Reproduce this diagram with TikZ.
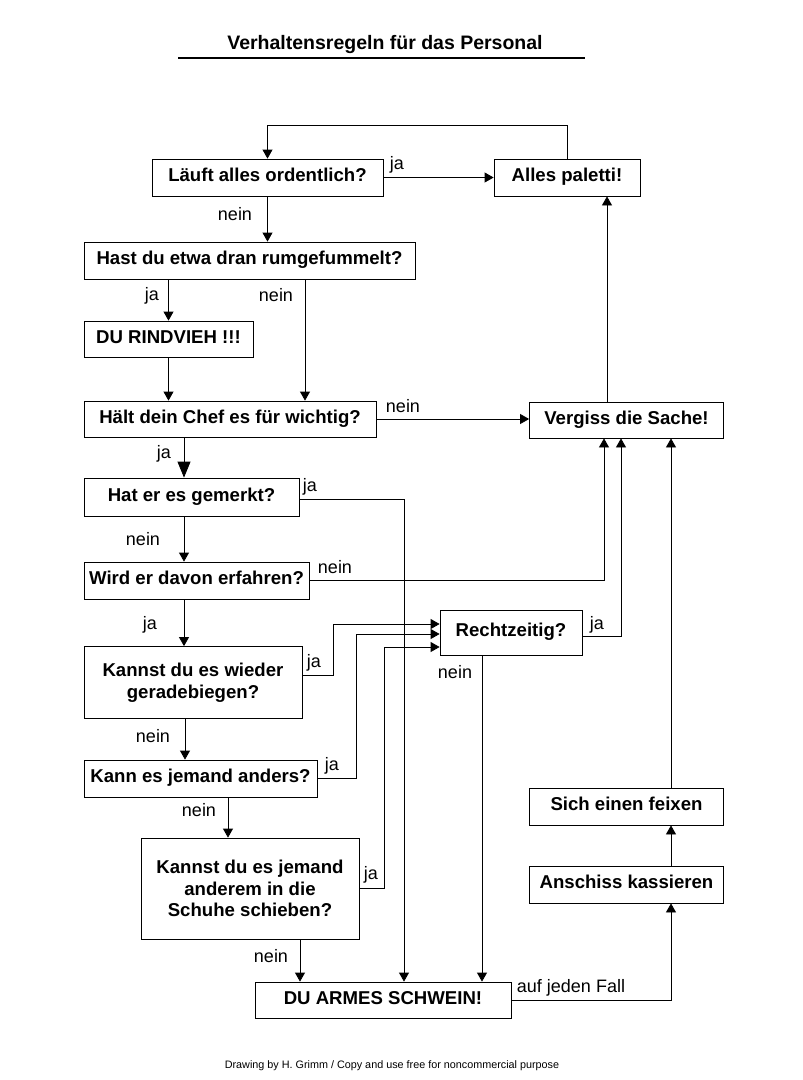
\documentclass[tikz,border=0pt]{standalone}
\usepackage{fontspec}
\setmainfont{Liberation Sans}
\usetikzlibrary{arrows.meta,calc,positioning}

\begin{document}
\begin{tikzpicture}[x=1pt,y=-1pt,
	box/.style={draw, line width=0.8pt, inner sep=0pt, minimum height=37pt, align=center, font=\fontsize{18.6}{21.5}\selectfont\bfseries},
	sbox/.style={box, text height=13.5pt, text depth=5pt},
	lbl/.style={inner sep=0pt, font=\fontsize{18}{20}\selectfont},
	arr/.style={line width=0.8pt, -{Triangle[length=9pt,width=10pt]}},
	bigarr/.style={line width=0.8pt, -{Triangle[length=16pt,width=13pt]}}]
	\useasboundingbox (0,0) rectangle (803,1080);
	\node [font=\fontsize{19.5}{22}\selectfont\bfseries, inner sep=0pt] (title) at (385,44) {Verhaltensregeln für das Personal};
	\draw [line width=1.6pt] (178,58) -- (585,58);
	\node [sbox, minimum width=231pt] (lauft) at (267.5,177.5) {Läuft alles ordentlich?};
	\node [sbox, minimum width=146pt] (alles) at (567,177.5) {Alles paletti!};
	\node [sbox, minimum width=331pt] (hast) at (249.5,260.5) {Hast du etwa dran rumgefummelt?};
	\node [sbox, minimum width=169pt, minimum height=36pt] (rind) at (168.5,339) {DU RINDVIEH !!!};
	\node [sbox, minimum width=292pt, minimum height=36pt] (haelt) at (230,419) {Hält dein Chef es für wichtig?};
	\node [sbox, minimum width=194pt, minimum height=36pt] (vergiss) at (626.5,420) {Vergiss die Sache!};
	\node [sbox, minimum width=215pt, minimum height=38pt] (hat) at (191.5,497) {Hat er es gemerkt?};
	\node [sbox, minimum width=225pt] (wird) at (196.5,580.5) {Wird er davon erfahren?};
	\node [sbox, minimum width=142pt, minimum height=45pt] (recht) at (511,632.5) {Rechtzeitig?};
	\node [box, minimum width=218pt, minimum height=72pt] (wieder) at (193,682.5) {Kannst du es wieder\\geradebiegen?};
	\node [sbox, minimum width=233pt] (anders) at (200.5,778.5) {Kann es jemand anders?};
	\node [box, minimum width=218pt, minimum height=101pt] (schuhe) at (250,888.5) {Kannst du es jemand\\anderem in die\\Schuhe schieben?};
	\node [sbox, minimum width=194pt] (feixen) at (626.5,806.5) {Sich einen feixen};
	\node [sbox, minimum width=194pt] (anschiss) at (626.5,884.5) {Anschiss kassieren};
	\node [sbox, minimum width=256pt, minimum height=36pt] (schwein) at (383,1000) {DU ARMES SCHWEIN!};
	\node [font=\fontsize{10.8}{13}\selectfont, inner sep=0pt] (credit) at (392,1066) {Drawing by H. Grimm / Copy and use free for noncommercial purpose};
	\coordinate (xnein) at (305,0);
	\coordinate (xja) at (184,0);
	\coordinate (xanders) at (228,0);
	\coordinate (xschuhe) at (300,0);
	\coordinate (xhat) at (404,0);
	\coordinate (xwird) at (604,0);
	\coordinate (xrecht) at (621,0);
	\coordinate (xrnein) at (482,0);
	\coordinate (xw1) at (333,0);
	\coordinate (xw2) at (356,0);
	\coordinate (xw3) at (384,0);
	\coordinate (xfall) at (671,0);
	\coordinate (xalles) at (607,0);
	\coordinate (r1) at ([yshift=8.5pt]recht.west);
	\coordinate (r2) at ([yshift=-1.5pt]recht.west);
	\coordinate (r3) at ([yshift=-14.5pt]recht.west);
	\draw [arr] (alles.north) -- ++(0,-33) -| (lauft.north);
	\draw [arr] (lauft.east) -- (lauft.east -| alles.west);
	\draw [arr] (lauft.south) -- (lauft.south |- hast.north);
	\draw [arr] (rind.north |- hast.south) -- (rind.north);
	\draw [arr] (hast.south -| xnein) -- (haelt.north -| xnein);
	\draw [arr] (rind.south) -- (rind.south |- haelt.north);
	\draw [arr] (haelt.east) -- (haelt.east -| vergiss.west);
	\draw [bigarr] (haelt.south -| xja) -- (hat.north -| xja);
	\draw [arr] ([yshift=-2pt]hat.east) -| (xhat |- schwein.north);
	\draw [arr] (hat.south -| xja) -- (wird.north -| xja);
	\draw [arr] (wird.east) -| (xwird |- vergiss.south);
	\draw [arr] (wird.south -| xja) -- (wieder.north -| xja);
	\draw [arr] ([yshift=7.5pt]wieder.east) -| (xw1 |- r1) -- (r1);
	\draw [arr] ([xshift=1pt]wieder.south -| xja) -- ([xshift=1pt]anders.north -| xja);
	\draw [arr] (anders.east) -| (xw2 |- r2) -- (r2);
	\draw [arr] (anders.south -| xanders) -- (schuhe.north -| xanders);
	\draw [arr] (schuhe.east) -| (xw3 |- r3) -- (r3);
	\draw [arr] (schuhe.south -| xschuhe) -- (schwein.north -| xschuhe);
	\draw [arr] ([yshift=-4pt]recht.east) -| (xrecht |- vergiss.south);
	\draw [arr] (recht.south -| xrnein) -- (schwein.north -| xrnein);
	\draw [arr] (schwein.east) -| (xfall |- anschiss.south);
	\draw [arr] (anschiss.north -| xfall) -- (feixen.south -| xfall);
	\draw [arr] (feixen.north -| xfall) -- (vergiss.south -| xfall);
	\draw [arr] (vergiss.north -| xalles) -- (alles.south -| xalles);
	\node [lbl] (l1) at (397,165) {ja};
	\node [lbl] (l2) at (235,214) {nein};
	\node [lbl] (l3) at (152,296) {ja};
	\node [lbl] (l4) at (276,295) {nein};
	\node [lbl] (l5) at (403,406) {nein};
	\node [lbl] (l6) at (164,454) {ja};
	\node [lbl] (l7) at (310,487) {ja};
	\node [lbl] (l8) at (143,539) {nein};
	\node [lbl] (l9) at (335,567) {nein};
	\node [lbl] (l10) at (150,625) {ja};
	\node [lbl] (l11) at (314,663) {ja};
	\node [lbl] (l12) at (153,736) {nein};
	\node [lbl] (l13) at (332,766) {ja};
	\node [lbl] (l14) at (199,810) {nein};
	\node [lbl] (l15) at (371,875) {ja};
	\node [lbl] (l16) at (271,956) {nein};
	\node [lbl] (l17) at (597,625) {ja};
	\node [lbl] (l18) at (455,672) {nein};
	\node [lbl] (l19) at (571,988) {auf jeden Fall};
\end{tikzpicture}
\end{document}
